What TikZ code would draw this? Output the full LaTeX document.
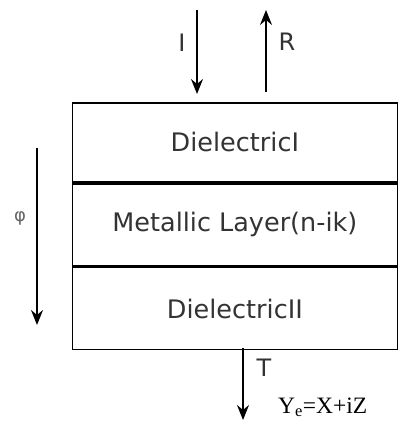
\documentclass[tikz,border=0pt]{standalone}
\usepackage{fontspec}
\setmainfont{DejaVu Sans}
\newfontfamily\serifface{Liberation Serif}
\usetikzlibrary{arrows.meta}
\definecolor{txt}{HTML}{333333}
\tikzset{
  layer/.style={draw=black, line width=1.8pt, minimum width=325pt, inner sep=0pt, anchor=north west, text=txt, font=\fontsize{25.5}{28}\selectfont},
  ray/.style={line width=1.4pt, -{Stealth[length=15pt,width=12pt,inset=5pt]}},
  lbl/.style={text=txt, font=\fontsize{24}{26}\selectfont, inner sep=0pt},
}
\begin{document}
\begin{tikzpicture}[x=1pt,y=1pt]
\useasboundingbox (0,0) rectangle (398,422);
\node[layer, minimum height=79pt] (d1) at (71.5,320) {DielectricI};
\node[layer, minimum height=82pt] (m) at (d1.south west) {Metallic Layer(n-ik)};
\node[layer, minimum height=82pt] (d2) at (m.south west) {DielectricII};
% incident
\coordinate (iS) at (197,412);
\coordinate (iE) at (197,328);
\draw[ray] (iS) -- (iE);
\node[lbl] (Il) at (182,379) {I};
% reflected
\coordinate (rS) at (266,330);
\coordinate (rE) at (266,412);
\draw[ray] (rS) -- (rE);
\node[lbl] (Rl) at (287,380) {R};
% phi
\coordinate (pS) at (37,274);
\coordinate (pE) at (37,97);
\draw[ray] (pS) -- (pE);
\node[text=gray!80!black, font=\fontsize{18}{20}\selectfont, inner sep=0pt] (ph) at (20,204) {φ};
% transmitted
\coordinate (tS) at (243,74);
\coordinate (tE) at (243,2);
\draw[ray] (tS) -- (tE);
\node[lbl] (Tl) at (264,54) {T};
\node[anchor=base west, inner sep=0pt, font=\serifface\fontsize{23.5}{25}\selectfont] (Y) at (278,9) {Y\textsubscript{e}=X+iZ};
\end{tikzpicture}
\end{document}
